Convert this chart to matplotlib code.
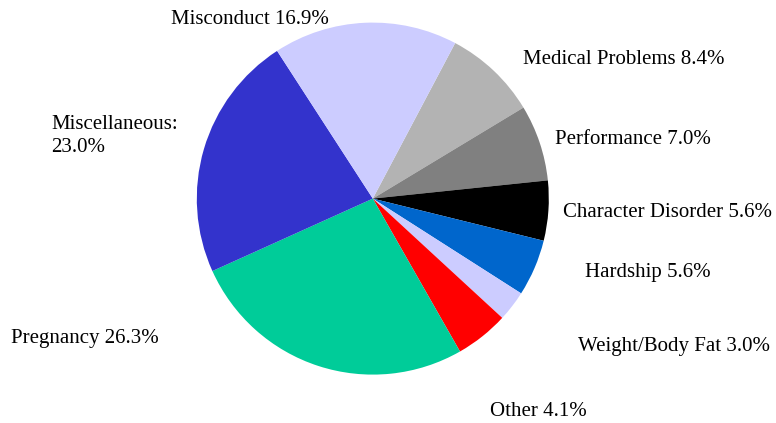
import matplotlib
matplotlib.use("Agg")
from matplotlib import pyplot as plt

# slices, clockwise from the top-right boundary
categories = ['Medical Problems', 'Performance', 'Character Disorder', 'Hardship',
              'Weight/Body Fat', 'Other', 'Pregnancy', 'Miscellaneous:', 'Misconduct']
# wedge sizes as drawn
wedge_sizes = [8.6, 7.0, 5.5, 5.2, 2.8, 4.9, 26.5, 22.6, 16.9]
# percentages as printed in the labels
label_pct = [8.4, 7.0, 5.6, 5.6, 3.0, 4.1, 26.3, 23.0, 16.9]
colors = ['#b3b3b3', '#808080', '#000000', '#0066cc', '#ccccff',
          '#ff0000', '#00cc99', '#3333cc', '#ccccff']

# label anchors in pixels (left x, centre y from the top)
label_pos = [(523, 59), (555, 139), (563, 212), (585, 273), (578, 347),
             (490, 411), (11, 339), (51, 136), (171, 19)]

W, H = 776, 423
plt.rcParams['font.family'] = ['Liberation Serif', 'DejaVu Serif']

fig = plt.figure(figsize=(W / 100, H / 100), dpi=100)
ax = fig.add_axes([0, 0, 1, 1])

ax.pie(wedge_sizes, colors=colors, startangle=62.1, counterclock=False,
       center=(372.8, H - 198.6), radius=176, frame=True,
       wedgeprops={'linewidth': 0})
ax.set_xlim(0, W)
ax.set_ylim(0, H)
ax.set_aspect('equal')
ax.axis('off')

for name, val, (x, y) in zip(categories, label_pct, label_pos):
    if name.endswith(':'):
        txt = '%s\n%.1f%%' % (name, val)
    else:
        txt = '%s %.1f%%' % (name, val)
    ax.text(x, H - y, txt, ha='left', va='center', fontsize=15, linespacing=1.35)

fig.savefig('out.png', dpi=100)
